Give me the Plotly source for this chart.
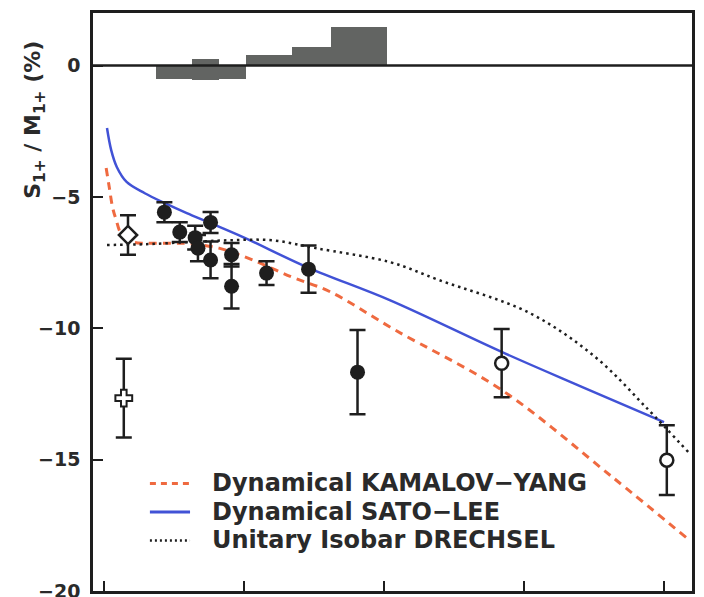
import plotly.graph_objects as go

# Q^2 (GeV^2) and S1+/M1+ ratio (%)
closed_q2 = [0.43, 0.54, 0.65, 0.67, 0.76, 0.76, 0.91, 0.91, 1.16, 1.46, 1.81]
closed_r = [-5.58, -6.34, -6.55, -6.95, -5.97, -7.40, -7.20, -8.40, -7.90, -7.75, -11.67]
closed_err = [0.38, 0.38, 0.45, 0.50, 0.40, 0.70, 0.45, 0.85, 0.45, 0.90, 1.60]

open_q2 = [2.84, 4.02]
open_r = [-11.33, -15.02]
open_err = [1.30, 1.33]

diamond_q2 = [0.17]
diamond_r = [-6.45]
diamond_err = [0.75]

cross_q2 = [0.14]
cross_r = [-12.66]
cross_err = [1.50]

# systematic uncertainty band drawn around zero
sys_lo_q2 = [0.37, 0.63, 0.82, 1.01, 1.34, 1.62]
sys_hi_q2 = [0.63, 0.82, 1.01, 1.34, 1.62, 2.02]
sys_low = [-0.50, -0.55, -0.50, 0.0, 0.0, 0.0]
sys_high = [0.0, 0.25, 0.0, 0.42, 0.70, 1.45]

# model curves
ky_q2 = [0.014, 0.036, 0.06, 0.086, 0.12, 0.21, 0.31, 0.48, 0.61, 0.82, 1.06, 1.34, 1.61, 2.08, 2.84, 3.63, 4.18]
ky_r = [-3.9, -4.62, -5.4, -5.88, -6.38, -6.72, -6.76, -6.76, -6.78, -6.95, -7.4, -8.05, -8.6, -10.07, -12.35, -15.66, -18.06]

sl_q2 = [0.02, 0.05, 0.09, 0.16, 0.29, 0.43, 0.59, 0.76, 1.0, 1.46, 2.04, 2.84, 3.4, 4.0]
sl_r = [-2.38, -3.22, -3.86, -4.43, -4.86, -5.23, -5.62, -6.0, -6.55, -7.7, -8.93, -10.9, -12.2, -13.57]

dr_q2 = [0.02, 0.3, 0.6, 0.9, 1.2, 1.51, 2.04, 2.39, 3.04, 3.51, 3.87, 4.18]
dr_r = [-6.83, -6.8, -6.72, -6.65, -6.65, -6.95, -7.48, -8.16, -9.42, -11.1, -13.0, -14.75]

legend_names = ["Dynamical KAMALOV\u2212YANG", "Dynamical SATO\u2212LEE", "Unitary Isobar DRECHSEL"]

RED = "#ef6a40"
BLUE = "#4152d6"
INK = "#1e1e1e"
TEXT = "#2a2a2a"

fig = go.Figure()

# systematic error histogram
fig.add_trace(go.Bar(
    x=[(a + b) / 2 for a, b in zip(sys_lo_q2, sys_hi_q2)],
    width=[b - a for a, b in zip(sys_lo_q2, sys_hi_q2)],
    base=sys_low,
    y=[h - l for l, h in zip(sys_low, sys_high)],
    marker=dict(color="#626462", line=dict(width=0)),
    showlegend=False,
))

# theory curves
fig.add_trace(go.Scatter(x=ky_q2, y=ky_r, mode="lines", line=dict(color=RED, width=3, dash="8px,6px", shape="spline"),
                         showlegend=False))
fig.add_trace(go.Scatter(x=sl_q2, y=sl_r, mode="lines", line=dict(color=BLUE, width=2.5, shape="spline"),
                         showlegend=False))
fig.add_trace(go.Scatter(x=dr_q2, y=dr_r, mode="lines", line=dict(color=INK, width=2.5, dash="2.5px,4px", shape="spline"),
                         showlegend=False))

err_style = dict(type="data", visible=True, color=INK, thickness=2.5, width=8)

fig.add_trace(go.Scatter(x=closed_q2, y=closed_r, mode="markers",
                         error_y=dict(array=closed_err, **err_style),
                         marker=dict(symbol="circle", size=15, color=INK), showlegend=False))
fig.add_trace(go.Scatter(x=open_q2, y=open_r, mode="markers",
                         error_y=dict(array=open_err, **err_style),
                         marker=dict(symbol="circle", size=13, color="white", line=dict(color=INK, width=2.5)),
                         showlegend=False))
fig.add_trace(go.Scatter(x=diamond_q2, y=diamond_r, mode="markers",
                         error_y=dict(array=diamond_err, **err_style),
                         marker=dict(symbol="diamond", size=14, color="white", line=dict(color=INK, width=2.5)),
                         showlegend=False))
fig.add_trace(go.Scatter(x=cross_q2, y=cross_r, mode="markers",
                         error_y=dict(array=cross_err, **err_style),
                         marker=dict(symbol="cross", size=14, color="white", line=dict(color=INK, width=2)),
                         showlegend=False))

# zero reference line over the histogram
fig.add_shape(type="line", xref="paper", x0=0, x1=1, yref="y", y0=0, y1=0,
              line=dict(color=INK, width=2.5), layer="above")

# key for the three model curves
key_rows = [0.1860, 0.1367, 0.0874]
key_styles = [dict(color=RED, width=3, dash="6px,5px"), dict(color=BLUE, width=3), dict(color=INK, width=2.5, dash="2px,3px")]
for name, yk, st in zip(legend_names, key_rows, key_styles):
    fig.add_shape(type="line", xref="paper", yref="paper", x0=0.095, x1=0.162, y0=yk, y1=yk, line=st)
    fig.add_annotation(xref="paper", yref="paper", x=0.197, y=yk, xanchor="left", yanchor="middle",
                       text=name, showarrow=False, borderpad=0,
                       font=dict(family="DejaVu Sans", size=24, color=TEXT, weight="bold"))

# axis title
fig.add_annotation(xref="paper", yref="paper", x=-0.097, y=0.815, textangle=-90,
                   text="S<sub>1+</sub> / M<sub>1+</sub> (%)", showarrow=False,
                   xanchor="center", yanchor="middle",
                   font=dict(family="DejaVu Sans", size=22, color=TEXT, weight="bold"))

fig.update_layout(
    template="none",
    width=704, height=597,
    margin=dict(l=93, r=12, t=13, b=6, autoexpand=False),
    paper_bgcolor="white", plot_bgcolor="white",
    showlegend=False,
    bargap=0,
)
fig.update_xaxes(range=[-0.08, 4.2], showgrid=False, zeroline=False,
                 showline=True, mirror=True, linecolor=INK, linewidth=2.5,
                 ticks="inside", ticklen=10, tickwidth=2, tickcolor=INK,
                 tickvals=[0, 1, 2, 3, 4], showticklabels=False)
fig.update_yaxes(range=[-20, 2], showgrid=False, zeroline=False,
                 showline=True, mirror=True, linecolor=INK, linewidth=2.5,
                 ticks="inside", ticklen=10, tickwidth=2, tickcolor=INK,
                 tickvals=[0, -5, -10, -15, -20], ticklabelstandoff=6,
                 ticklabeloverflow="allow",
                 tickfont=dict(family="DejaVu Sans", size=19, color=TEXT, weight="bold"))

fig.write_html("out.html")
